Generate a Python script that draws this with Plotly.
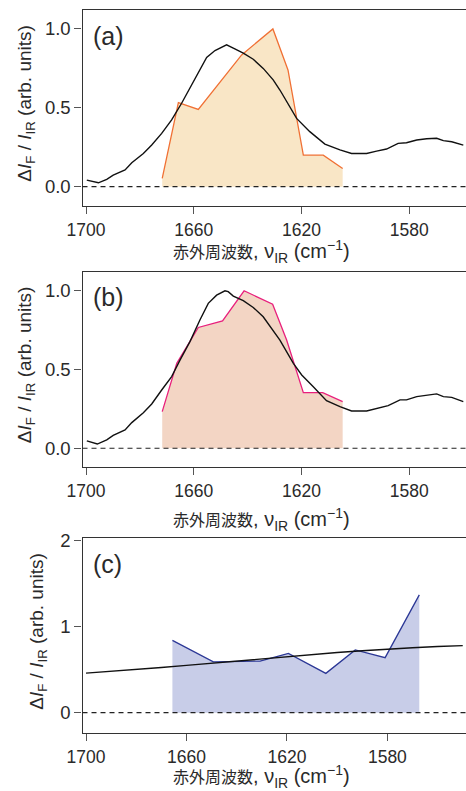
import plotly.graph_objects as go

W, H = 466, 791

# ---------------- data ----------------
# Panel (a)
a_ir_x = [1699.7, 1695.4, 1692.3, 1689.9, 1685.5, 1683.0, 1678.7, 1675.6, 1671.9, 1668.2,
          1664.5, 1660.8, 1657.7, 1655.2, 1652.1, 1649.0, 1647.8, 1645.3, 1641.6, 1637.9,
          1634.2, 1630.5, 1628.0, 1621.8, 1616.9, 1611.3, 1605.7, 1601.4, 1595.8, 1592.1,
          1588.4, 1584.1, 1581.0, 1577.2, 1573.5, 1569.8, 1567.3, 1564.2, 1559.9]
a_ir_y = [0.042, 0.025, 0.047, 0.074, 0.106, 0.152, 0.211, 0.264, 0.338, 0.423,
          0.529, 0.645, 0.750, 0.820, 0.863, 0.892, 0.899, 0.878, 0.846, 0.808,
          0.750, 0.677, 0.613, 0.433, 0.349, 0.270, 0.233, 0.211, 0.211, 0.226,
          0.239, 0.275, 0.279, 0.296, 0.304, 0.307, 0.292, 0.285, 0.264]
a_sig_x = [1671.7, 1665.7, 1658.3, 1642.2, 1630.6, 1625.0, 1619.3, 1611.9, 1604.7]
a_sig_y = [0.053, 0.533, 0.490, 0.835, 1.000, 0.740, 0.200, 0.200, 0.116]

# Panel (b)
b_ir_x = [1699.7, 1695.8, 1692.3, 1689.9, 1685.5, 1683.0, 1678.7, 1675.6, 1671.9, 1668.2,
          1665.1, 1661.4, 1657.7, 1654.6, 1651.5, 1648.4, 1647.2, 1645.3, 1641.6, 1637.9,
          1634.2, 1630.5, 1628.0, 1623.0, 1619.9, 1615.6, 1610.7, 1605.7, 1601.4, 1595.8,
          1592.1, 1587.8, 1583.4, 1581.0, 1577.2, 1573.5, 1569.8, 1567.3, 1564.2, 1559.9]
b_ir_y = [0.047, 0.027, 0.053, 0.082, 0.116, 0.163, 0.226, 0.281, 0.370, 0.455,
          0.560, 0.677, 0.814, 0.920, 0.972, 1.000, 0.994, 0.966, 0.937, 0.894,
          0.835, 0.750, 0.687, 0.539, 0.465, 0.391, 0.302, 0.264, 0.237, 0.237,
          0.254, 0.271, 0.307, 0.307, 0.328, 0.336, 0.345, 0.328, 0.323, 0.296]
b_sig_x = [1671.7, 1666.3, 1658.3, 1649.3, 1641.3, 1630.7, 1625.5, 1619.3, 1612.1, 1604.7]
b_sig_y = [0.233, 0.539, 0.767, 0.808, 1.000, 0.915, 0.687, 0.353, 0.353, 0.296]

# Panel (c)
c_fit_x = [1700, 1690, 1680, 1670, 1660, 1650, 1640, 1630, 1620, 1610, 1600, 1590, 1580, 1570, 1560, 1550]
c_fit_y = [0.46, 0.48, 0.50, 0.525, 0.55, 0.575, 0.60, 0.63, 0.655, 0.68, 0.70, 0.72, 0.74, 0.755, 0.77, 0.78]
c_sig_x = [1665.6, 1649.3, 1630.7, 1619.4, 1604.5, 1592.8, 1580.9, 1567.3]
c_sig_y = [0.84, 0.59, 0.60, 0.69, 0.457, 0.73, 0.64, 1.37]

x_ticks = [1700, 1660, 1620, 1580]
panel_labels = ["(a)", "(b)", "(c)"]
x_title = ("赤外周波数<span style='font-size:20px'>, ν<sub>IR</sub> "
           "(cm<sup>−1</sup>)</span>")
y_title = "Δ<i>I</i><sub>F</sub> / <i>I</i><sub>IR</sub> (arb. units)"

# ---------------- styling ----------------
FONT = "Liberation Sans, Arial, Noto Sans CJK JP, sans-serif"
TXT = "#2a2a2a"
AX = "#333333"

panels = [
    dict(ir_x=a_ir_x, ir_y=a_ir_y, sx=a_sig_x, sy=a_sig_y,
         line="#f07034", fill="#f9e6c6", top=10, bottom=205.5,
         yr=[-0.119, 1.120], xr=[1701.3, 1558.9], dtick=0.5, fmt=".1f",
         ytl_x=26, xt_y=251),
    dict(ir_x=b_ir_x, ir_y=b_ir_y, sx=b_sig_x, sy=b_sig_y,
         line="#e8207c", fill="#f3d5c4", top=271.7, bottom=466.7,
         yr=[-0.117, 1.121], xr=[1701.3, 1558.9], dtick=0.5, fmt=".1f",
         ytl_x=26, xt_y=519),
    dict(ir_x=c_fit_x, ir_y=c_fit_y, sx=c_sig_x, sy=c_sig_y,
         line="#2c3896", fill="#c8cde8", top=538.3, bottom=733.3,
         yr=[-0.24, 2.028], xr=[1701.4, 1548.7], dtick=1, fmt="d",
         ytl_x=38, xt_y=776),
]

fig = go.Figure()
layout = dict(width=W, height=H, margin=dict(l=0, r=0, t=0, b=0, autoexpand=False),
              paper_bgcolor="white", plot_bgcolor="white", showlegend=False,
              font=dict(family=FONT, size=16, color=TXT))
annotations = []
shapes = []
x_left = 82.5 / W

for i, p in enumerate(panels):
    n = "" if i == 0 else str(i + 1)
    xa, ya = "x" + n, "y" + n
    fig.add_trace(go.Scatter(x=p["sx"], y=p["sy"], mode="lines", fill="tozeroy",
                             fillcolor=p["fill"], line=dict(color=p["line"], width=1.3),
                             xaxis=xa, yaxis=ya, hoverinfo="skip"))
    fig.add_trace(go.Scatter(x=p["ir_x"], y=p["ir_y"], mode="lines",
                             line=dict(color="#111111", width=1.4),
                             xaxis=xa, yaxis=ya, hoverinfo="skip"))
    y0 = (H - p["bottom"]) / H
    y1 = (H - p["top"]) / H
    layout["xaxis" + n] = dict(domain=[x_left, 1], anchor=ya, range=p["xr"],
                               tickvals=x_ticks, ticks="outside", ticklen=7, tickwidth=1.2,
                               tickcolor="#555", showline=True, linecolor=AX, linewidth=1.3,
                               mirror=True, showgrid=False, zeroline=False, automargin=False,
                               ticklabelstandoff=1,
                               tickfont=dict(size=17.5, color=TXT, family=FONT))
    layout["yaxis" + n] = dict(domain=[y0, y1], anchor=xa, range=p["yr"],
                               dtick=p["dtick"], tick0=0, tickformat=p["fmt"],
                               ticks="outside", ticklen=7, tickwidth=1.2, tickcolor="#555",
                               showline=True, linecolor=AX, linewidth=1.3,
                               showgrid=False, zeroline=False, automargin=False,
                               tickfont=dict(size=18.5, color=TXT, family=FONT))
    shapes.append(dict(type="line", xref=xa + " domain", yref=ya, x0=0, x1=1, y0=0, y1=0,
                       line=dict(color="#222", width=1.2, dash="5px,4px")))
    annotations.append(dict(text=panel_labels[i], xref="paper", yref="paper",
                            x=91 / W, y=(H - (p["top"] + 25.5)) / H, xanchor="left",
                            yanchor="middle", showarrow=False,
                            font=dict(size=25, color=TXT, family=FONT)))
    annotations.append(dict(text=y_title, xref="paper", yref="paper",
                            x=p["ytl_x"] / W, y=(H - (p["top"] + p["bottom"]) / 2 + 4) / H,
                            xanchor="center", yanchor="middle", textangle=-90,
                            showarrow=False, font=dict(size=19, color=TXT, family=FONT)))
    annotations.append(dict(text=x_title, xref="paper", yref="paper",
                            x=261 / W, y=(H - p["xt_y"]) / H, xanchor="center",
                            yanchor="middle", showarrow=False,
                            font=dict(size=16, color=TXT, family=FONT)))

layout["annotations"] = annotations
layout["shapes"] = shapes
fig.update_layout(**layout)
fig.write_html("out.html")
